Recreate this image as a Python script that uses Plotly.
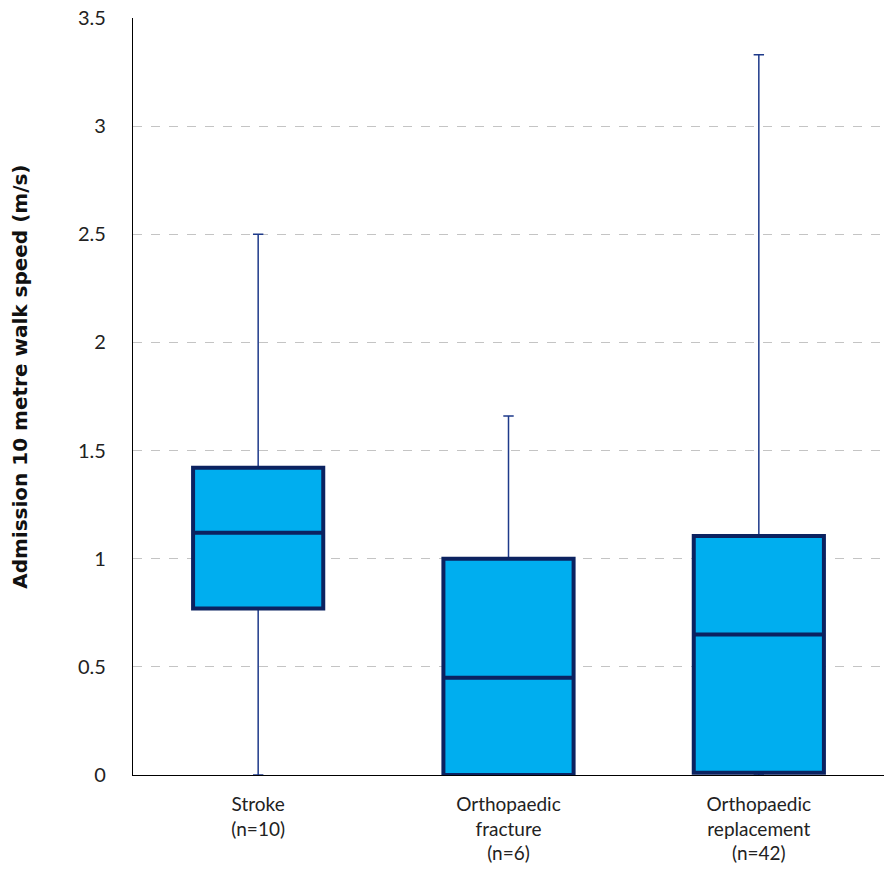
import plotly.graph_objects as go

categories = ["Stroke<br>(n=10)", "Orthopaedic<br>fracture<br>(n=6)", "Orthopaedic<br>replacement<br>(n=42)"]
q1_vals = [0.77, 0.0, 0.01]
median_vals = [1.12, 0.45, 0.65]
q3_vals = [1.42, 1.00, 1.105]
min_vals = [0.0, 0.0, 0.0]
max_vals = [2.50, 1.66, 3.33]
y_ticks = [0, 0.5, 1, 1.5, 2, 2.5, 3, 3.5]
y_tick_labels = ["0", "0.5", "1", "1.5", "2", "2.5", "3", "3.5"]

FILL = "#00AEEF"
EDGE = "#0B2260"
WHISK = "#1E3A8A"
FONT = "Lato, Roboto, sans-serif"

fig = go.Figure()
# whiskers (thin)
fig.add_trace(go.Box(
    x=categories, q1=q1_vals, median=median_vals, q3=q3_vals,
    lowerfence=min_vals, upperfence=max_vals,
    fillcolor="rgba(0,0,0,0)", line=dict(color=WHISK, width=1.5),
    whiskerwidth=0.08, width=0.52, boxpoints=False, showlegend=False,
    hoverinfo="skip"))
# box (thick)
fig.add_trace(go.Box(
    x=categories, q1=q1_vals, median=median_vals, q3=q3_vals,
    lowerfence=q1_vals, upperfence=q3_vals,
    fillcolor=FILL, line=dict(color=EDGE, width=4),
    whiskerwidth=0, width=0.52, boxpoints=False, showlegend=False))

fig.update_layout(
    width=885, height=880,
    margin=dict(l=133, r=1, t=18, b=105),
    paper_bgcolor="white", plot_bgcolor="white",
    boxmode="overlay",
    font=dict(family=FONT, size=19, color="#222"),
    showlegend=False,
    annotations=[dict(
        text="<b>Admission 10 metre walk speed (m/s)</b>",
        xref="paper", yref="paper", x=0, y=0.526, xshift=-113,
        xanchor="center", yanchor="middle", textangle=-90, showarrow=False,
        font=dict(family="DejaVu Sans, Open Sans, sans-serif", size=20, color="#111"))],
)
fig.update_xaxes(
    type="category", range=[-0.5, 2.5], showline=True, linecolor="black", linewidth=1.2,
    ticks="", showgrid=False, tickfont=dict(size=19, color="#222"),
    ticklabelstandoff=12,
)
fig.update_yaxes(
    range=[0, 3.5], tickvals=y_ticks, ticktext=y_tick_labels,
    showline=True, linecolor="black", linewidth=1.2,
    ticks="", ticklabelstandoff=22,
    showgrid=True, gridcolor="#C4C4C4", griddash="dash", gridwidth=1,
    zeroline=False, tickfont=dict(size=20, color="#222"),
)

fig.write_html("out.html", config={"displayModeBar": False},
               post_script="document.body.style.margin='0';document.body.style.overflow='hidden';")
